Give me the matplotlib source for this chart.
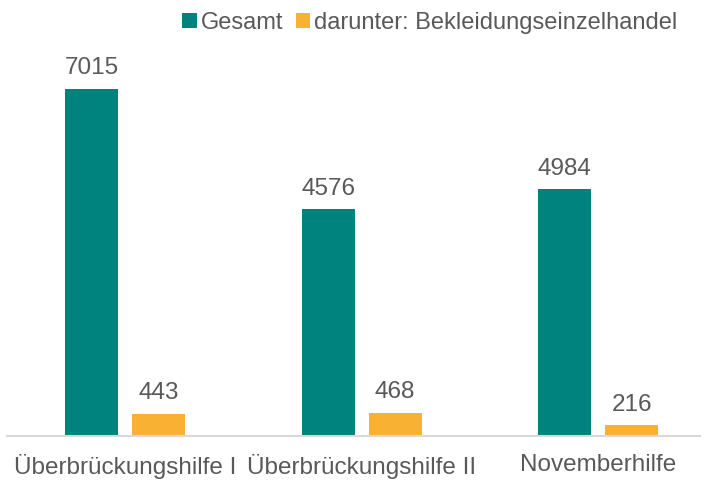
import matplotlib.pyplot as plt
import numpy as np

categories = ['Überbrückungshilfe I', 'Überbrückungshilfe II', 'Novemberhilfe']
gesamt = [7015, 4576, 4984]
bekleidung = [443, 468, 216]
series_names = ['Gesamt', 'darunter: Bekleidungseinzelhandel']

teal = '#00827F'
orange = '#F8B133'
text_grey = '#595959'

plt.rcParams['font.family'] = ['Liberation Sans', 'DejaVu Sans']

fig = plt.figure(figsize=(7.06, 4.8), dpi=100)
# axes placed in pixel terms: left 7, right 700, bottom 436, top 40
ax = fig.add_axes([7 / 706, (480 - 436) / 480, 693 / 706, 396 / 480])

x = np.arange(len(categories))
w = 0.224
off = 0.1417
b1 = ax.bar(x - off, gesamt, w, color=teal, label=series_names[0])
b2 = ax.bar(x + off, bekleidung, w, color=orange, label=series_names[1])

for bars, vals in ((b1, gesamt), (b2, bekleidung)):
    for r, v in zip(bars, vals):
        ax.annotate(str(v), (r.get_x() + r.get_width() / 2, r.get_height()),
                    xytext=(0, 7), textcoords='offset points',
                    ha='center', va='bottom', fontsize=17.5, color=text_grey)

ax.set_xlim(-0.499, 2.431)
ax.set_ylim(0, 8000)
ax.set_yticks([])
ax.set_xticks(x)
ax.set_xticklabels(categories, fontsize=17.5, color=text_grey)
ax.tick_params(axis='x', length=0, pad=13)
for s in ('top', 'right', 'left'):
    ax.spines[s].set_visible(False)
ax.spines['bottom'].set_color('#D9D9D9')
ax.spines['bottom'].set_linewidth(1.5)

fig.legend(loc='center', bbox_to_anchor=(430 / 706, 1 - 23 / 480), ncol=2,
           frameon=False, fontsize=17, handlelength=0.6, handleheight=0.6,
           handletextpad=0.2, columnspacing=0.5, labelcolor=text_grey,
           borderpad=0, borderaxespad=0)

fig.savefig('out.png', dpi=100)
